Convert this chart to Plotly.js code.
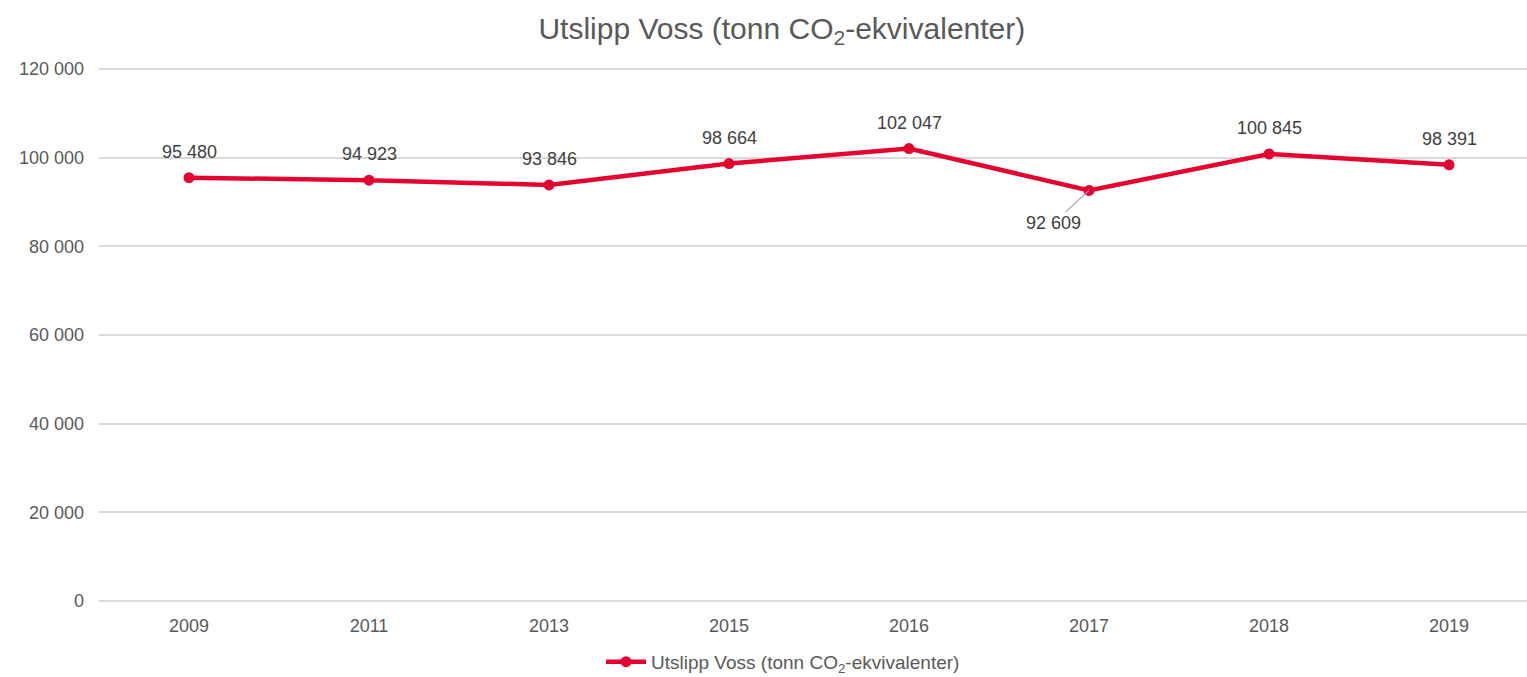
<!DOCTYPE html>
<html>
<head>
<meta charset="utf-8">
<script src="https://cdn.plot.ly/plotly-3.0.1.min.js"></script>
<style>html,body{margin:0;padding:0;background:#fff}#chart{width:1527px;height:677px}</style>
</head>
<body>
<div id="chart"></div>
<script>
const years = ["2009", "2011", "2013", "2015", "2016", "2017", "2018", "2019"];
const emissions = [95480, 94923, 93846, 98664, 102047, 92609, 100845, 98391];
const seriesName = "Utslipp Voss (tonn CO<sub>2</sub>-ekvivalenter)";
const yTicks = [0, 20000, 40000, 60000, 80000, 100000, 120000];

function fmt(v) {
  return String(v).replace(/\B(?=(\d{3})+(?!\d))/g, " ");
}

const font = "Liberation Sans, Arial, sans-serif";

const annotations = years.map((yr, i) => {
  const below = yr === "2017";
  if (below) {
    return {
      x: i, y: emissions[i], xref: "x", yref: "y",
      text: fmt(emissions[i]),
      showarrow: true, arrowhead: 0, arrowwidth: 1.2, arrowcolor: "#a6a6a6",
      ax: -36, ay: 33,
      font: {family: font, size: 18, color: "#404040"}
    };
  }
  return {
    x: i, y: emissions[i], xref: "x", yref: "y",
    text: fmt(emissions[i]),
    showarrow: false, yshift: 26,
    xanchor: "center", yanchor: "middle",
    font: {family: font, size: 18, color: "#404040"}
  };
});

const trace = {
  x: years, y: emissions, type: "scatter", mode: "lines+markers",
  name: seriesName,
  line: {color: "#e4032e", width: 4.5},
  marker: {color: "#e4032e", size: 11}
};

const layout = {
  width: 1527, height: 677, autosize: false,
  margin: {l: 99, r: 0, t: 64, b: 71, autoexpand: false},
  paper_bgcolor: "#fff", plot_bgcolor: "#fff",
  title: {text: "Utslipp Voss (tonn CO<sub>2</sub>-ekvivalenter)", x: 0.512, xref: "container", xanchor: "center",
          y: 0.958, yanchor: "middle",
          font: {family: font, size: 30, color: "#595959"}},
  xaxis: {type: "category", range: [-0.5, 7.433], showgrid: false, zeroline: false, showline: false,
          ticks: "", ticklabelstandoff: 7, tickfont: {family: font, size: 18, color: "#595959"}, fixedrange: true},
  yaxis: {range: [-1128, 121128], tickvals: yTicks, ticktext: yTicks.map(fmt), showgrid: true, gridcolor: "#d9d9d9", gridwidth: 1.5,
          zeroline: false, showline: false, ticks: "", ticklabelstandoff: 14,
          tickfont: {family: font, size: 18, color: "#595959"}},
  showlegend: true,
  legend: {orientation: "h", x: 0.479, xanchor: "center", y: -0.103, yanchor: "middle",
           font: {family: font, size: 19, color: "#595959"}, itemwidth: 40},
  annotations: annotations
};

Plotly.newPlot("chart", [trace], layout, {displayModeBar: false});
</script>
</body>
</html>
